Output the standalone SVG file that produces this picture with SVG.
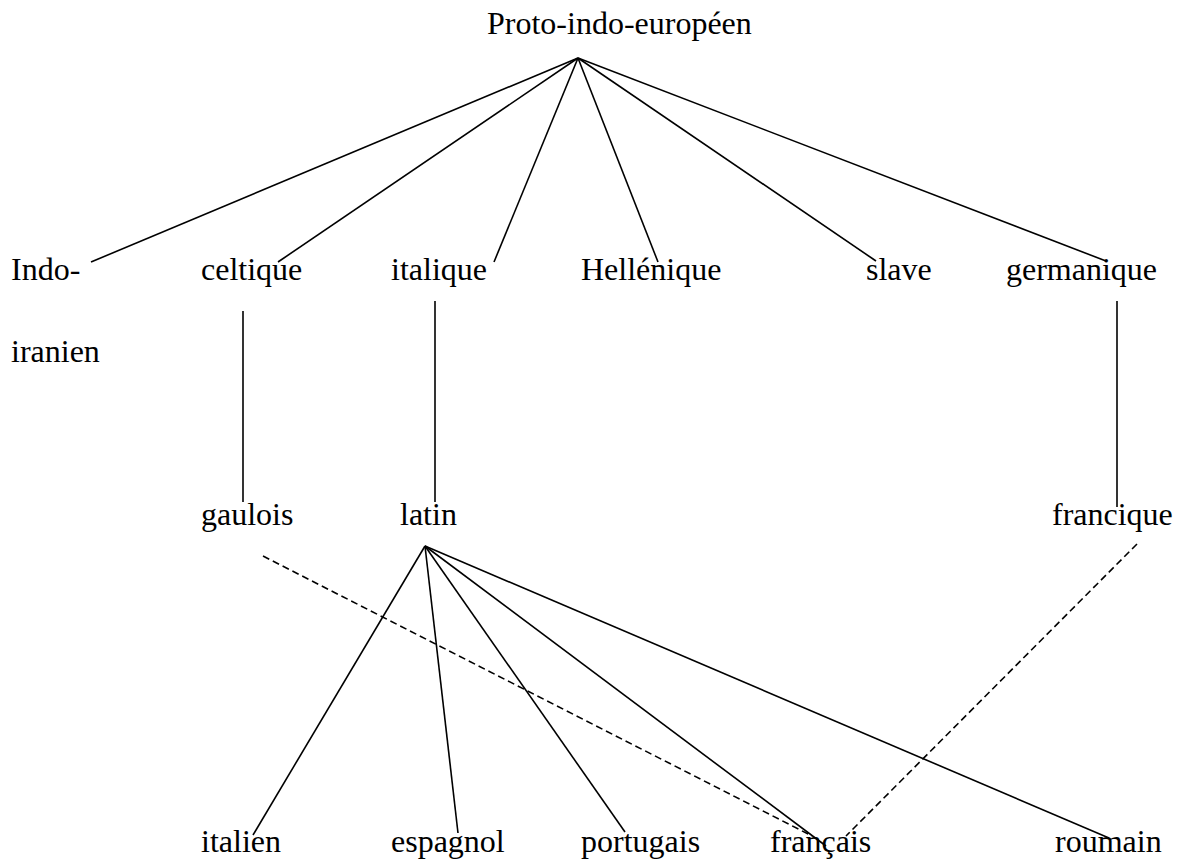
<svg xmlns="http://www.w3.org/2000/svg" width="1178" height="859" viewBox="0 0 1178 859">
<style>
.t{font-family:'Liberation Serif','DejaVu Serif',serif;font-size:32px;fill:#000}
.l{stroke:#000;stroke-width:1.6;fill:none}
.d{stroke:#000;stroke-width:1.6;fill:none;stroke-dasharray:7 4}
</style>
<rect width="1178" height="859" fill="#fff"/>
<g id="connectors">
<line class="l" x1="578" y1="58" x2="91" y2="262"/>
<line class="l" x1="578" y1="58" x2="278" y2="262"/>
<line class="l" x1="578" y1="58" x2="494" y2="262"/>
<line class="l" x1="578" y1="58" x2="658" y2="262"/>
<line class="l" x1="578" y1="58" x2="876" y2="261"/>
<line class="l" x1="578" y1="58" x2="1106" y2="261"/>
<line class="l" x1="243" y1="311" x2="243" y2="502"/>
<line class="l" x1="435" y1="301" x2="435" y2="502"/>
<line class="l" x1="1117" y1="301" x2="1117" y2="507"/>
<line class="l" x1="425" y1="546" x2="253" y2="835"/>
<line class="l" x1="425" y1="546" x2="458" y2="833"/>
<line class="l" x1="425" y1="546" x2="625" y2="832"/>
<line class="l" x1="425" y1="546" x2="826" y2="846"/>
<line class="l" x1="425" y1="546" x2="1109" y2="838"/>
<line class="d" x1="263" y1="556" x2="812" y2="836"/>
<line class="d" x1="1137" y1="544" x2="846" y2="836"/>
</g>
<g class="t" font-family="Liberation Serif, serif" font-size="32">
<g id="n-proto"><text x="487" y="34">Proto-indo-européen</text></g>
<g id="n-indoiranien"><text x="11" y="280">Indo-</text><text x="11" y="362">iranien</text></g>
<g id="n-celtique"><text x="201" y="280">celtique</text></g>
<g id="n-italique"><text x="391" y="280">italique</text></g>
<g id="n-hellenique"><text x="581" y="280">Hellénique</text></g>
<g id="n-slave"><text x="866" y="280">slave</text></g>
<g id="n-germanique"><text x="1006" y="280">germanique</text></g>
<g id="n-gaulois"><text x="201" y="525">gaulois</text></g>
<g id="n-latin"><text x="400" y="525">latin</text></g>
<g id="n-francique"><text x="1052" y="525">francique</text></g>
<g id="n-italien"><text x="201" y="852">italien</text></g>
<g id="n-espagnol"><text x="391" y="852">espagnol</text></g>
<g id="n-portugais"><text x="581" y="852">portugais</text></g>
<g id="n-francais"><text x="770" y="852">français</text></g>
<g id="n-roumain"><text x="1055" y="852">roumain</text></g>
</g>
</svg>
